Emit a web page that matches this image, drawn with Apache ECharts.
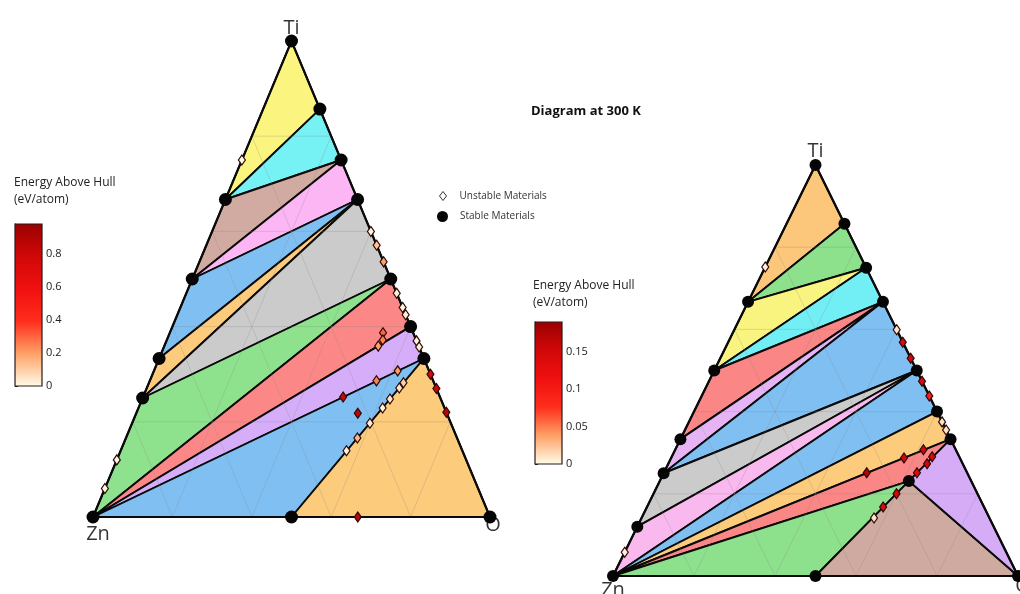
<!DOCTYPE html>
<html>
<head>
<meta charset="utf-8">
<script src="https://cdn.jsdelivr.net/npm/echarts@6/dist/echarts.min.js"></script>
<style>
  html, body { margin: 0; padding: 0; background: #fff; }
  #chart { width: 1020px; height: 594px; }
</style>
</head>
<body>
<div id="chart"></div>
<script>
const FONT = "'Open Sans', 'Noto Sans', sans-serif";

// Stable phases: [formula, Ti fraction, O fraction]
const stableLeft = [
  ['Ti', 1, 0], ['Ti6O', 0.857, 0.143], ['Ti3O', 0.75, 0.25], ['Ti2O', 0.667, 0.333],
  ['TiO', 0.5, 0.5], ['Ti2O3', 0.4, 0.6], ['TiO2', 0.333, 0.667], ['O', 0, 1],
  ['ZnO', 0, 0.5], ['Zn', 0, 0], ['TiZn3', 0.25, 0], ['TiZn2', 0.333, 0],
  ['TiZn', 0.5, 0], ['Ti2Zn', 0.667, 0]
];
// Three-phase regions of the hull
const facetsLeft = [
  ['Ti', 'Ti6O', 'Ti2Zn'], ['Ti6O', 'Ti3O', 'Ti2Zn'], ['Ti2Zn', 'Ti3O', 'TiZn'],
  ['TiZn', 'Ti3O', 'Ti2O'], ['TiZn', 'Ti2O', 'TiZn2'], ['TiZn2', 'Ti2O', 'TiZn3'],
  ['TiZn3', 'Ti2O', 'TiO'], ['TiZn3', 'TiO', 'Zn'], ['Zn', 'TiO', 'Ti2O3'],
  ['Zn', 'Ti2O3', 'TiO2'], ['Zn', 'TiO2', 'ZnO'], ['ZnO', 'TiO2', 'O']
];
const facetColorsLeft = [
  '#fbf47e', '#76f1f4', '#d1aba1', '#fbb6f3', '#80bff2', '#fccb7c',
  '#cbcbcb', '#8fe28d', '#fc8787', '#d5adf9', '#80bff2', '#fccb7c'
];
// Unstable phases: [Ti fraction, O fraction, energy above hull (eV/atom)]
const unstableLeft = [
  [0.75, 0, 0.01], [0.12, 0, 0.01], [0.06, 0, 0.01],
  [0.60, 0.40, 0.02], [0.571, 0.429, 0.12], [0.536, 0.464, 0.2],
  [0.47, 0.53, 0.03], [0.44, 0.56, 0.02], [0.425, 0.575, 0.03],
  [0.37, 0.63, 0.02], [0.357, 0.643, 0.03],
  [0.30, 0.70, 0.75], [0.27, 0.73, 0.8], [0.22, 0.78, 0.85], [0, 0.667, 0.85],
  [0.139, 0.569, 0.02], [0.166, 0.583, 0.15], [0.197, 0.599, 0.03], [0.229, 0.615, 0.02],
  [0.248, 0.624, 0.05], [0.271, 0.636, 0.05], [0.282, 0.641, 0.1],
  [0.252, 0.504, 0.8], [0.286, 0.571, 0.25], [0.307, 0.614, 0.2],
  [0.359, 0.539, 0.2], [0.387, 0.537, 0.3], [0.372, 0.544, 0.25], [0.218, 0.558, 0.85]
];

const stableRight = [
  ['Ti', 1, 0], ['Ti6O', 0.857, 0.143], ['Ti3O', 0.75, 0.25], ['Ti2O', 0.667, 0.333],
  ['TiO', 0.5, 0.5], ['Ti2O3', 0.4, 0.6], ['TiO2', 0.333, 0.667], ['O', 0, 1],
  ['ZnO', 0, 0.5], ['Zn', 0, 0], ['Ti3Zn22', 0.12, 0], ['TiZn3', 0.25, 0],
  ['TiZn2', 0.333, 0], ['TiZn', 0.5, 0], ['Ti2Zn', 0.667, 0], ['Zn2Ti3O8', 0.231, 0.615]
];
const facetsRight = [
  ['Ti', 'Ti6O', 'Ti2Zn'], ['Ti6O', 'Ti3O', 'Ti2Zn'], ['Ti2Zn', 'Ti3O', 'TiZn'],
  ['TiZn', 'Ti3O', 'Ti2O'], ['TiZn', 'Ti2O', 'TiZn2'], ['TiZn2', 'Ti2O', 'TiZn3'],
  ['TiZn3', 'Ti2O', 'TiO'], ['TiZn3', 'TiO', 'Ti3Zn22'], ['Ti3Zn22', 'TiO', 'Zn'],
  ['Zn', 'TiO', 'Ti2O3'], ['Zn', 'Ti2O3', 'TiO2'], ['Zn', 'TiO2', 'Zn2Ti3O8'],
  ['Zn', 'Zn2Ti3O8', 'ZnO'], ['ZnO', 'Zn2Ti3O8', 'O'], ['Zn2Ti3O8', 'TiO2', 'O']
];
const facetColorsRight = [
  '#fcc67b', '#8de08c', '#f8f47f', '#72eff5', '#fb8686', '#e6b4f5', '#80bff2',
  '#cbcbcb', '#f9b8ee', '#80bff2', '#fccb7c', '#fb8686', '#8de08c', '#cfaaa0', '#d6acf7'
];
const unstableRight = [
  [0.752, 0, 0.005], [0.058, 0, 0.005],
  [0.599, 0.401, 0.01], [0.569, 0.431, 0.14], [0.530, 0.470, 0.15],
  [0.474, 0.526, 0.14], [0.438, 0.562, 0.1], [0.375, 0.625, 0.01], [0.355, 0.645, 0.01],
  [0.251, 0.501, 0.17], [0.287, 0.575, 0.15], [0.307, 0.613, 0.15],
  [0.251, 0.625, 0.14], [0.273, 0.639, 0.15], [0.290, 0.643, 0.14],
  [0.2, 0.6, 0.15], [0.168, 0.583, 0.14], [0.141, 0.574, 0.01]
];

// Colour bar ranges (eV/atom)
const hullMaxLeft = 0.98, hullStepLeft = 0.2;
const hullMaxRight = 0.19, hullStepRight = 0.05;
const hullColors = ['#fffde9', '#ffa268', '#ff2e1c', '#f01010', '#d00808', '#9a0000'];

const cornerNames = ['Ti', 'Zn', 'O'];

// Ternary composition -> plot plane (x along Zn-O base, y = Ti fraction)
function toXY(ti, o) { return [o + ti / 2, ti]; }
function positions(stable) {
  const m = {};
  stable.forEach(p => { m[p[0]] = toXY(p[1], p[2]); });
  return m;
}

function facetSeries(stable, facets, colors, gi) {
  const pos = positions(stable);
  return {
    type: 'custom', xAxisIndex: gi, yAxisIndex: gi, silent: true, z: 1,
    data: facets.map(f => {
      const c = f.map(n => pos[n]);
      return [(c[0][0] + c[1][0] + c[2][0]) / 3, (c[0][1] + c[1][1] + c[2][1]) / 3];
    }),
    renderItem: (params, api) => ({
      type: 'polygon',
      shape: { points: facets[params.dataIndex].map(n => api.coord(pos[n])) },
      style: { fill: colors[params.dataIndex], stroke: '#0a0a0a', lineWidth: 1.9, lineJoin: 'round' }
    })
  };
}

function frameSeries(gi) {
  return {
    type: 'custom', xAxisIndex: gi, yAxisIndex: gi, silent: true, z: 2,
    data: [[0.5, 0.5]],
    renderItem: (params, api) => {
      const children = [];
      [0.2, 0.4, 0.6, 0.8].forEach(k => {
        [[[k, 0], [k, 1 - k]], [[0, k], [1 - k, k]], [[1 - k, 0], [0, 1 - k]]].forEach(seg => {
          const a = api.coord(toXY(seg[0][0], seg[0][1]));
          const b = api.coord(toXY(seg[1][0], seg[1][1]));
          children.push({
            type: 'line', shape: { x1: a[0], y1: a[1], x2: b[0], y2: b[1] },
            style: { stroke: 'rgba(130,130,130,0.25)', lineWidth: 1 }
          });
        });
      });
      const tri = [[0, 0], [0, 1], [1, 0]].map(p => api.coord(toXY(p[0], p[1])));
      children.push({ type: 'polygon', shape: { points: tri }, style: { fill: 'none', stroke: '#0a0a0a', lineWidth: 2.2 } });
      return { type: 'group', children };
    }
  };
}

function stableSeries(stable, gi, size) {
  return {
    name: 'Stable Materials', type: 'scatter', xAxisIndex: gi, yAxisIndex: gi, clip: false, z: 4,
    symbol: 'circle', symbolSize: size, itemStyle: { color: '#050505', opacity: 1 },
    data: stable.map(p => ({ name: p[0], value: toXY(p[1], p[2]) }))
  };
}

function unstableSeries(list, gi) {
  return {
    name: 'Unstable Materials', type: 'scatter', xAxisIndex: gi, yAxisIndex: gi, clip: false, z: 5,
    symbol: 'diamond', symbolSize: [7, 10],
    itemStyle: { color: '#fff', borderColor: '#2a0808', borderWidth: 1.2, opacity: 1 },
    data: list.map(p => toXY(p[0], p[1]).concat([p[2]]))
  };
}

function cornerSeries(stable, gi, place) {
  const pos = positions(stable);
  return {
    type: 'scatter', xAxisIndex: gi, yAxisIndex: gi, clip: false, silent: true, z: 6,
    symbolSize: 0,
    data: cornerNames.map((n, i) => ({
      name: n, value: pos[n],
      label: { show: true, formatter: n, position: place[i][0], distance: place[i][1], offset: place[i][2],
               fontSize: 20, color: '#000', fontFamily: FONT }
    }))
  };
}

function barSeries(gi, max) {
  return {
    type: 'custom', xAxisIndex: gi, yAxisIndex: gi, silent: true, clip: false,
    data: [[0.5, max / 2]],
    renderItem: (params, api) => {
      const tl = api.coord([0, max]), br = api.coord([1, 0]);
      return {
        type: 'rect',
        shape: { x: tl[0], y: tl[1], width: br[0] - tl[0], height: br[1] - tl[1] },
        style: {
          fill: new echarts.graphic.LinearGradient(0, 1, 0, 0,
            hullColors.map((c, i) => ({ offset: i / (hullColors.length - 1), color: c }))),
          stroke: '#2a1a1a', lineWidth: 1.2
        }
      };
    }
  };
}

function barAxis(gi, max, step) {
  return {
    type: 'value', gridIndex: gi, min: 0, max: max, interval: step, position: 'right',
    axisLine: { show: true, lineStyle: { color: '#222', width: 1 } },
    axisTick: { show: true, length: 3, lineStyle: { color: '#222' } },
    splitLine: { show: false },
    axisLabel: {
      fontSize: 11, color: '#222', margin: 4, fontFamily: FONT,
      formatter: v => {
        const r = v / step;
        return Math.abs(r - Math.round(r)) < 1e-6 ? String(+v.toFixed(2)) : '';
      }
    }
  };
}

const series = [
  facetSeries(stableLeft, facetsLeft, facetColorsLeft, 0),
  frameSeries(0),
  stableSeries(stableLeft, 0, 13),
  unstableSeries(unstableLeft, 0),
  cornerSeries(stableLeft, 0, [['top', 3, [0, 0]], ['bottom', 7, [5, 0]], ['bottom', -2, [3, 0]]]),
  facetSeries(stableRight, facetsRight, facetColorsRight, 1),
  frameSeries(1),
  stableSeries(stableRight, 1, 12),
  unstableSeries(unstableRight, 1),
  cornerSeries(stableRight, 1, [['top', 4, [0, 0]], ['bottom', 4, [0, 0]], ['bottom', 0, [5, 0]]]),
  barSeries(2, hullMaxLeft),
  barSeries(3, hullMaxRight)
];

const chart = echarts.init(document.getElementById('chart'), null, { renderer: 'canvas' });
chart.setOption({
  backgroundColor: '#fff',
  animation: false,
  textStyle: { fontFamily: FONT },
  title: [
    { text: 'Diagram at 300 K', left: 531, top: 105, padding: 0,
      textStyle: { fontSize: 13, fontWeight: 'bold', color: '#111', fontFamily: FONT } },
    { text: 'Energy Above Hull\n(eV/atom)', left: 14, top: 174, padding: 0,
      textStyle: { fontSize: 12, fontWeight: 'normal', color: '#222', lineHeight: 17, fontFamily: FONT } },
    { text: 'Energy Above Hull\n(eV/atom)', left: 533, top: 277, padding: 0,
      textStyle: { fontSize: 12, fontWeight: 'normal', color: '#222', lineHeight: 17, fontFamily: FONT } }
  ],
  legend: [
    { data: [{ name: 'Unstable Materials', icon: 'diamond',
               itemStyle: { color: '#fff', borderColor: '#333', borderWidth: 1 } }],
      left: 439, top: 191, padding: 0, itemWidth: 7, itemHeight: 9, selectedMode: false, symbolKeepAspect: false,
      textStyle: { fontSize: 10, color: '#333', fontFamily: FONT, padding: [0, 0, 0, 8] } },
    { data: [{ name: 'Stable Materials', icon: 'circle', itemStyle: { color: '#050505' } }],
      left: 437, top: 211, padding: 0, itemWidth: 11, itemHeight: 14, selectedMode: false, symbolKeepAspect: false,
      textStyle: { fontSize: 10, color: '#333', fontFamily: FONT, padding: [0, 0, 0, 7] } }
  ],
  grid: [
    { left: 93, top: 41, width: 397, height: 476 },
    { left: 613, top: 165, width: 405, height: 411 },
    { left: 15, top: 224, width: 27, height: 162 },
    { left: 535, top: 322, width: 27, height: 142 }
  ],
  xAxis: [0, 1, 2, 3].map(i => ({ type: 'value', gridIndex: i, min: 0, max: 1, show: false })),
  yAxis: [
    { type: 'value', gridIndex: 0, min: 0, max: 1, show: false },
    { type: 'value', gridIndex: 1, min: 0, max: 1, show: false },
    barAxis(2, hullMaxLeft, hullStepLeft),
    barAxis(3, hullMaxRight, hullStepRight)
  ],
  visualMap: [
    { type: 'continuous', show: false, seriesIndex: 3, dimension: 2, min: 0, max: hullMaxLeft,
      inRange: { color: hullColors } },
    { type: 'continuous', show: false, seriesIndex: 8, dimension: 2, min: 0, max: hullMaxRight,
      inRange: { color: hullColors } }
  ],
  series: series
});
</script>
</body>
</html>
